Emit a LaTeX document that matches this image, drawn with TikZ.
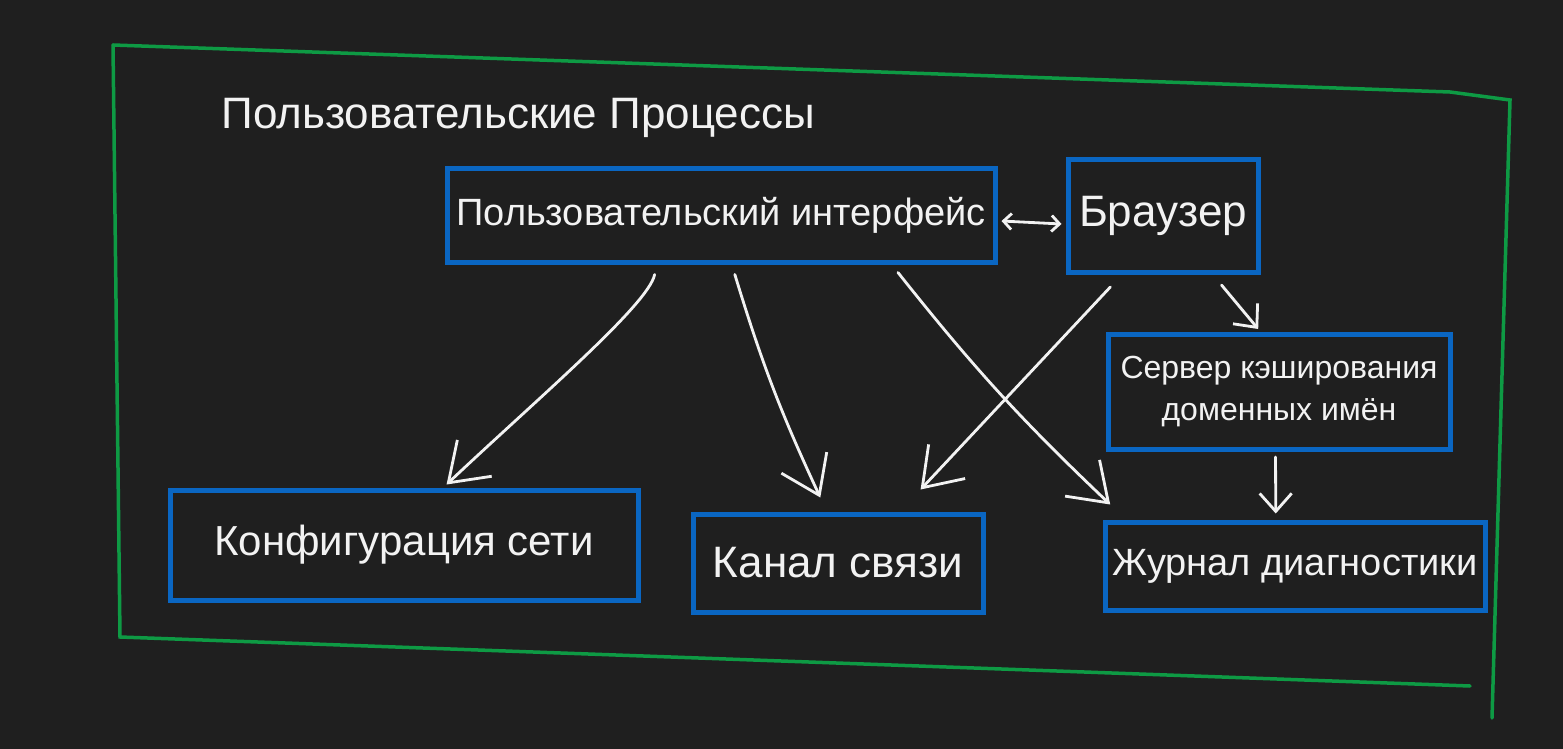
\documentclass[tikz,border=0pt]{standalone}
\usepackage{fontspec}
\setmainfont{Liberation Sans}
\usetikzlibrary{arrows.meta,calc}
\definecolor{bg}{HTML}{1F1F1F}
\definecolor{frameg}{HTML}{0E9A44}
\definecolor{boxb}{HTML}{0A66C2}
\definecolor{ink}{HTML}{F2F2F2}
\tikzset{
  box/.style={draw=boxb, line width=5pt, text=ink, font=\fontsize{38}{46}\selectfont, inner sep=0pt, align=center},
  conn/.style={draw=ink, line width=2.8pt, line cap=round, -{Straight Barb[length=36pt,width=50pt]}},
  smallconn/.style={draw=ink, line width=2.8pt, line cap=round, -{Straight Barb[length=18pt,width=32pt]}},
  dconn/.style={draw=ink, line width=2.8pt, {Straight Barb[length=8pt,width=16pt]}-{Straight Barb[length=8pt,width=16pt]}}
}
\begin{document}
\begin{tikzpicture}[x=1pt,y=-1pt]
\fill[bg] (0,0) rectangle (1563,749);
\useasboundingbox (0,0) rectangle (1563,749);
% frame
\draw[frameg, line width=3.5pt, line cap=round] (113,45) -- (1450,92) -- (1510,100) -- (1492,718);
\draw[frameg, line width=3.5pt, line cap=round] (113,45) -- (120,637) -- (1470,686);
% title
\node[text=ink, font=\fontsize{44}{50}\selectfont, anchor=west] (title) at (218,118) {Пользовательские Процессы};
% boxes
\node[box, minimum width=548pt, minimum height=94pt] (ui) at (721,215) {Пользовательский интерфейс};
\node[box, minimum width=190pt, minimum height=113pt, font=\fontsize{44}{50}\selectfont] (br) at (1163,216) {Браузер};
\node[box, minimum width=342pt, minimum height=115pt, font=\fontsize{32}{42}\selectfont] (dns) at (1279,392) {Сервер кэширования\\доменных имён};
\node[box, minimum width=468pt, minimum height=110pt, font=\fontsize{42}{50}\selectfont] (cfg) at (404,545) {Конфигурация сети};
\node[box, minimum width=290pt, minimum height=98pt, font=\fontsize{44}{50}\selectfont] (ch) at (838,563) {Канал связи};
\node[box, minimum width=380pt, minimum height=88pt] (log) at (1295,566) {Журнал диагностики};
% connectors
\draw[dconn] ($(ui.east)+(4,6)$) -- ($(br.west)+(-4,8)$);
\draw[conn] ($(ui.south west)!0.38!(ui.south east)+(0,10)$) .. controls +(-6,30) and +(90,-85) .. ($(cfg.north west)!0.59!(cfg.north east)+(0,-3)$);
\draw[conn] ($(ui.south west)!0.525!(ui.south east)+(0,10)$) to[bend right=4] ($(ch.north west)!0.44!(ch.north east)+(0,-14)$);
\draw[conn] ($(ui.south west)!0.82!(ui.south east)+(0,8)$) to[bend right=4] ($(log.north west)!0.02!(log.north east)+(0,-15)$);
\draw[conn] ($(br.south west)!0.23!(br.south east)+(0,12)$) -- ($(ch.north west)!0.78!(ch.north east)+(0,-22)$);
\draw[smallconn] ($(br.south west)!0.8!(br.south east)+(0,10)$) -- ($(dns.north west)!0.44!(dns.north east)+(0,-3)$);
\draw[smallconn] ($(dns.south west)!0.49!(dns.south east)+(0,5)$) -- ($(log.north west)!0.45!(log.north east)+(0,-6)$);
\end{tikzpicture}
\end{document}
